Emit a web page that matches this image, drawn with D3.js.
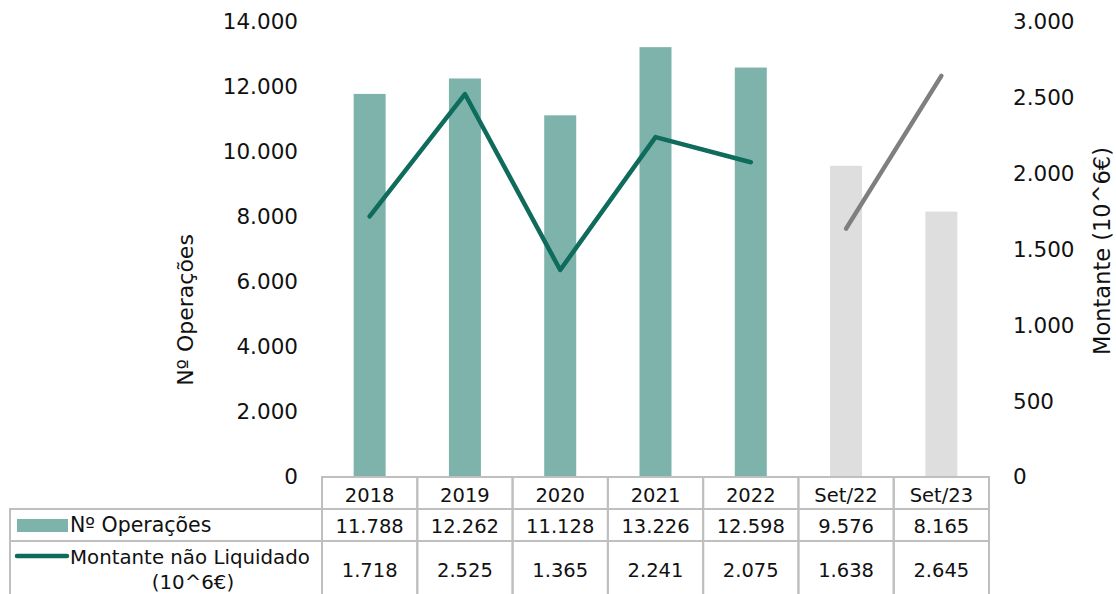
<!DOCTYPE html>
<html><head><meta charset="utf-8">
<script src="https://cdn.jsdelivr.net/npm/d3@7"></script>
<style>body{margin:0;background:#fff;}svg{display:block;}</style>
</head><body>
<svg id="c" width="1116" height="594"></svg>
<script>
const categories = ["2018","2019","2020","2021","2022","Set/22","Set/23"];
const operacoes = [11788,12262,11128,13226,12598,9576,8165];
const montante = [1718,2525,1365,2241,2075,1638,2645];
const operacoesLabels = ["11.788","12.262","11.128","13.226","12.598","9.576","8.165"];
const montanteLabels = ["1.718","2.525","1.365","2.241","2.075","1.638","2.645"];
const leftTicks = [0,2000,4000,6000,8000,10000,12000,14000];
const rightTicks = [0,500,1000,1500,2000,2500,3000];
const highlighted = ["Set/22","Set/23"];

const font = "DejaVu Sans, Verdana, sans-serif";
const svg = d3.select("#c");
const x0 = 322, x1 = 989, yTop = 22, yBot = 477;
const x = d3.scaleBand().domain(categories).range([x0,x1]).paddingInner(0).paddingOuter(0);
const yL = d3.scaleLinear().domain([0,14000]).range([yBot,yTop]);
const yR = d3.scaleLinear().domain([0,3000]).range([yBot,yTop]);
const fmt = d => d3.format(",")(d).replace(/,/g,".");

const teal = "#7db3ab", tealLine = "#0f6b5b", greyBar = "#dedede", greyLine = "#7f7f7f";
const bw = 32;

// bars
svg.append("g").selectAll("rect").data(categories).join("rect")
  .attr("x", d => x(d) + x.bandwidth()/2 - bw/2)
  .attr("width", bw)
  .attr("y", (d,i) => yL(operacoes[i]))
  .attr("height", (d,i) => yBot - yL(operacoes[i]))
  .attr("fill", d => highlighted.includes(d) ? greyBar : teal);

// lines
const mainIdx = categories.map((c,i)=>i).filter(i => !highlighted.includes(categories[i]));
const hiIdx = categories.map((c,i)=>i).filter(i => highlighted.includes(categories[i]));
const line = d3.line().x(i => x(categories[i]) + x.bandwidth()/2).y(i => yR(montante[i]));
svg.append("path").attr("d", line(mainIdx)).attr("fill","none").attr("stroke",tealLine)
  .attr("stroke-width",4.5).attr("stroke-linejoin","round").attr("stroke-linecap","round");
svg.append("path").attr("d", line(hiIdx)).attr("fill","none").attr("stroke",greyLine)
  .attr("stroke-width",4.5).attr("stroke-linecap","round");

// axes
const axL = svg.append("g").attr("transform",`translate(${x0},0)`)
  .call(d3.axisLeft(yL).tickValues(leftTicks).tickFormat(fmt).tickSize(0).tickPadding(24));
axL.select(".domain").remove();
axL.selectAll("text").attr("font-family",font).attr("font-size",21.5).attr("fill","#111");

const axR = svg.append("g").attr("transform",`translate(${x1},0)`)
  .call(d3.axisRight(yR).tickValues(rightTicks).tickFormat(fmt).tickSize(0).tickPadding(24));
axR.select(".domain").remove();
axR.selectAll("text").attr("font-family",font).attr("font-size",21.5).attr("fill","#111");

svg.append("text").attr("transform","translate(193,310) rotate(-90)")
  .attr("text-anchor","middle").attr("font-family",font).attr("font-size",22).attr("fill","#111")
  .text("Nº Operações");
svg.append("text").attr("transform","translate(1110,251) rotate(-90)")
  .attr("text-anchor","middle").attr("font-family",font).attr("font-size",22.5).attr("fill","#111")
  .text("Montante (10^6€)");

// data table
const border = "#bfbfbf";
const rH = [477,509,541,600];
const fs = 19.5;
const tbl = svg.append("g");
categories.forEach((c,i) => {
  tbl.append("rect").attr("x",x(c)).attr("y",rH[0]).attr("width",x.bandwidth()).attr("height",rH[1]-rH[0])
    .attr("fill","none").attr("stroke",border).attr("stroke-width",2);
  tbl.append("text").attr("x",x(c)+x.bandwidth()/2).attr("y",501.5).attr("text-anchor","middle")
    .attr("font-family",font).attr("font-size",fs).attr("fill","#111").text(c);
  tbl.append("rect").attr("x",x(c)).attr("y",rH[1]).attr("width",x.bandwidth()).attr("height",rH[2]-rH[1])
    .attr("fill","none").attr("stroke",border).attr("stroke-width",2);
  tbl.append("text").attr("x",x(c)+x.bandwidth()/2).attr("y",533).attr("text-anchor","middle")
    .attr("font-family",font).attr("font-size",fs).attr("fill","#111").text(operacoesLabels[i]);
  tbl.append("rect").attr("x",x(c)).attr("y",rH[2]).attr("width",x.bandwidth()).attr("height",rH[3]-rH[2])
    .attr("fill","none").attr("stroke",border).attr("stroke-width",2);
  tbl.append("text").attr("x",x(c)+x.bandwidth()/2).attr("y",577).attr("text-anchor","middle")
    .attr("font-family",font).attr("font-size",fs).attr("fill","#111").text(montanteLabels[i]);
});
// label column
tbl.append("rect").attr("x",10).attr("y",rH[1]).attr("width",x0-10).attr("height",rH[2]-rH[1])
  .attr("fill","none").attr("stroke",border).attr("stroke-width",2);
tbl.append("rect").attr("x",10).attr("y",rH[2]).attr("width",x0-10).attr("height",rH[3]-rH[2])
  .attr("fill","none").attr("stroke",border).attr("stroke-width",2);
tbl.append("rect").attr("x",17).attr("y",519).attr("width",51).attr("height",13).attr("fill",teal);
tbl.append("text").attr("x",70).attr("y",532).attr("font-family",font).attr("font-size",20.5).attr("fill","#111").text("Nº Operações");
tbl.append("line").attr("x1",17).attr("x2",67).attr("y1",556).attr("y2",556).attr("stroke",tealLine).attr("stroke-width",4.5).attr("stroke-linecap","round");
tbl.append("text").attr("x",70).attr("y",564).attr("font-family",font).attr("font-size",19.8).attr("fill","#111").text("Montante não Liquidado");
tbl.append("text").attr("x",193).attr("y",589).attr("text-anchor","middle").attr("font-family",font).attr("font-size",19.8).attr("fill","#111").text("(10^6€)");
</script>
</body></html>
